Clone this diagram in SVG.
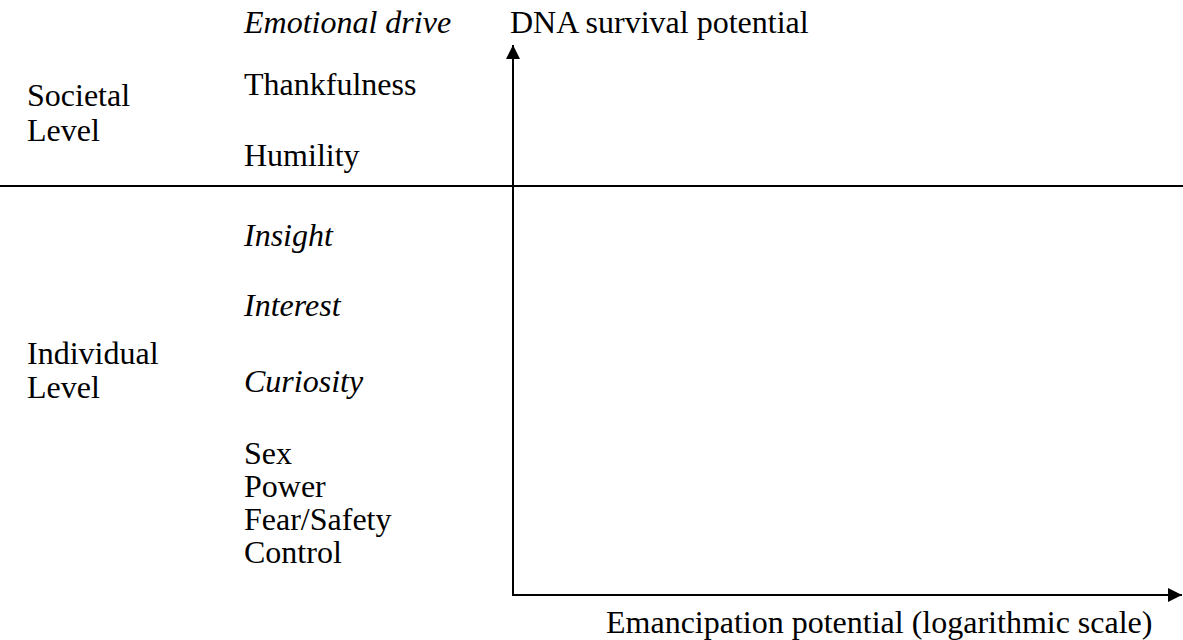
<svg xmlns="http://www.w3.org/2000/svg" width="1183" height="640" viewBox="0 0 1183 640">
<style>
text{font-family:"Liberation Serif","Times New Roman",serif;font-size:32px;fill:#000}
.i{font-style:italic}
.ln{stroke:#000;stroke-width:2;fill:none}
</style>
<defs>
<marker id="ah" viewBox="0 0 14 14" refX="14" refY="7" markerWidth="14" markerHeight="14" orient="auto" markerUnits="userSpaceOnUse">
<path d="M0,0 L14,7 L0,14 z" fill="#000"/>
</marker>
</defs>
<rect width="1183" height="640" fill="#fff"/>
<g id="connectors">
<line class="ln" x1="0" y1="186" x2="1183" y2="186" stroke="#222"/>
<line class="ln" x1="513" y1="596" x2="513" y2="45" marker-end="url(#ah)"/>
<line class="ln" x1="513" y1="595" x2="1182" y2="595" marker-end="url(#ah)"/>
</g>
<g id="labels">
<text class="i" x="244" y="33">Emotional drive</text>
<text x="510" y="33">DNA survival potential</text>
<text x="244" y="95">Thankfulness</text>
<text x="27" y="106">Societal</text>
<text x="27" y="141">Level</text>
<text x="244" y="166">Humility</text>
<text class="i" x="244" y="246">Insight</text>
<text class="i" x="244" y="316">Interest</text>
<text x="27" y="364">Individual</text>
<text x="27" y="398">Level</text>
<text class="i" x="244" y="392">Curiosity</text>
<text x="244" y="464">Sex</text>
<text x="244" y="497">Power</text>
<text x="244" y="530">Fear/Safety</text>
<text x="244" y="563">Control</text>
<text x="606" y="633">Emancipation potential (logarithmic scale)</text>
</g>
</svg>
